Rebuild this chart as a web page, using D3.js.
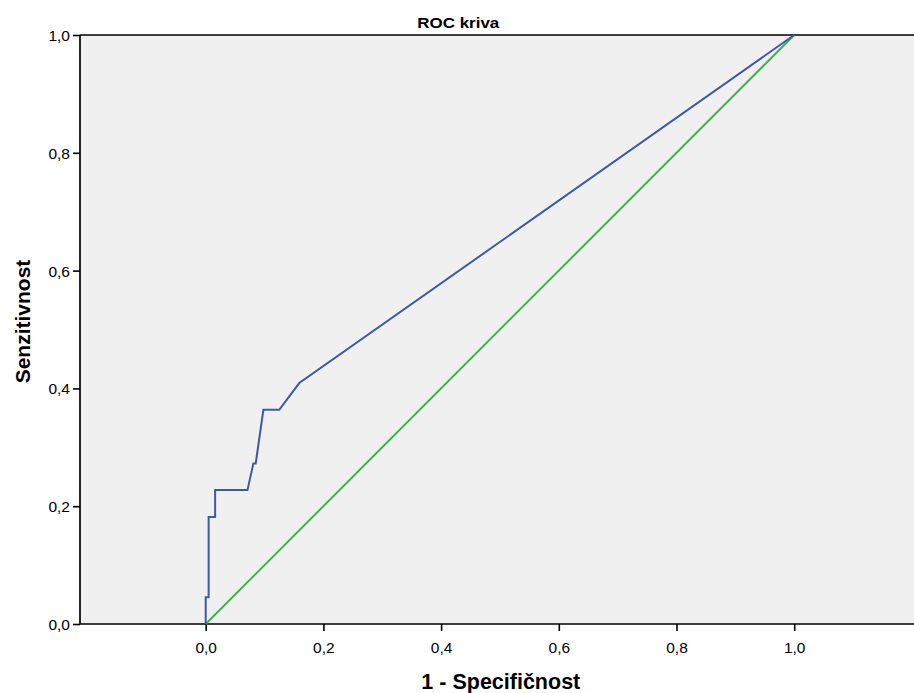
<!DOCTYPE html>
<html><head><meta charset="utf-8">
<script src="https://cdn.jsdelivr.net/npm/d3@7"></script>
<style>body{margin:0;background:#fff;}svg{display:block;font-family:"Liberation Sans",Arial,sans-serif;}</style>
</head><body>
<svg id="c" width="914" height="693"></svg>
<script>
const title = "ROC kriva";
const xLabel = "1 - Specifičnost";
const yLabel = "Senzitivnost";
const tickValues = [0, 0.2, 0.4, 0.6, 0.8, 1.0];
const fpr = [0, 0, 0.005, 0.005, 0.016, 0.016, 0.071, 0.081, 0.085, 0.098, 0.125, 0.159, 1];
const tpr = [0, 0.0455, 0.0455, 0.1818, 0.1818, 0.2273, 0.2273, 0.2727, 0.2727, 0.3636, 0.3636, 0.4091, 1];
const refX = [0, 1];
const refY = [0, 1];

const FONT = "'Liberation Sans', Arial, sans-serif";
const svg = d3.select("#c");
const x = d3.scaleLinear().domain([0, 1]).range([205.7, 794.2]);
const y = d3.scaleLinear().domain([0, 1]).range([624, 35]);
const left = 80, right = 914;

svg.append("rect").attr("x", left).attr("y", y(1)).attr("width", right - left).attr("height", y(0) - y(1)).attr("fill", "#f0f0f0");

const fmt = d => d3.format(".1f")(d).replace(".", ",");

const xa = svg.append("g").attr("transform", `translate(0,${y(0)})`)
  .call(d3.axisBottom(x).tickValues(tickValues).tickFormat(fmt).tickSize(7).tickSizeOuter(0));
xa.select(".domain").remove();
xa.selectAll("text").attr("font-size", 15.5).attr("font-family", FONT).attr("fill", "#000").attr("y", 28.5).attr("dy", null);
xa.selectAll("line").attr("stroke", "#000").attr("stroke-width", 1.6);

const ya = svg.append("g").attr("transform", `translate(${left},0)`)
  .call(d3.axisLeft(y).tickValues(tickValues).tickFormat(fmt).tickSize(7).tickSizeOuter(0));
ya.select(".domain").remove();
ya.selectAll("text").attr("font-size", 15.5).attr("font-family", FONT).attr("fill", "#000").attr("x", -10).attr("dy", "0.35em");
ya.selectAll("line").attr("stroke", "#000").attr("stroke-width", 1.6);

svg.append("line").attr("x1", left).attr("x2", right).attr("y1", y(0)).attr("y2", y(0)).attr("stroke", "#000").attr("stroke-width", 1.7);
svg.append("line").attr("x1", left).attr("x2", right).attr("y1", y(1)).attr("y2", y(1)).attr("stroke", "#000").attr("stroke-width", 1.7);
svg.append("line").attr("x1", left).attr("x2", left).attr("y1", y(0)).attr("y2", y(1)).attr("stroke", "#000").attr("stroke-width", 1.7);

const line = d3.line().x(d => x(d[0])).y(d => y(d[1]));
svg.append("path").datum(d3.zip(refX, refY)).attr("d", line).attr("fill", "none").attr("stroke", "#3cb44a").attr("stroke-width", 2);
svg.append("path").datum(d3.zip(fpr, tpr)).attr("d", line).attr("fill", "none").attr("stroke", "#3e58ac").attr("stroke-width", 2);

svg.append("text").attr("x", 458.3).attr("y", 28.3).attr("text-anchor", "middle")
  .attr("font-family", FONT).attr("font-weight", "bold").attr("font-size", 15.5)
  .attr("textLength", 82).attr("lengthAdjust", "spacingAndGlyphs").text(title);
svg.append("text").attr("x", 500.8).attr("y", 688.5).attr("text-anchor", "middle")
  .attr("font-family", FONT).attr("font-weight", "bold").attr("font-size", 21.5).text(xLabel);
svg.append("text").attr("transform", "translate(29.5,321.5) rotate(-90)").attr("text-anchor", "middle")
  .attr("font-family", FONT).attr("font-weight", "bold").attr("font-size", 21).text(yLabel);
</script>
</body></html>
